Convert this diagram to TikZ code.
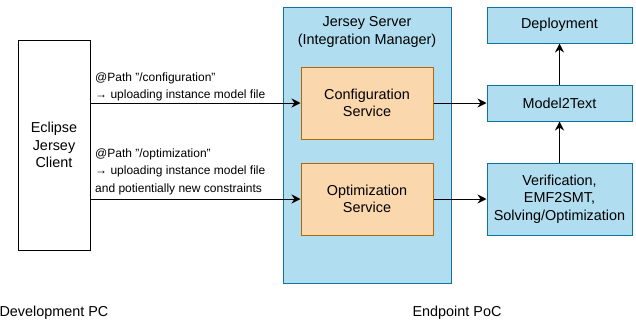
\documentclass[tikz,border=0pt]{standalone}
\usepackage{fontspec}
\setmainfont{Liberation Sans}
\usetikzlibrary{arrows.meta,positioning}
\definecolor{srvfill}{HTML}{B1DDF0}
\definecolor{srvline}{HTML}{10739E}
\definecolor{svcfill}{HTML}{FAD7AC}
\definecolor{svcline}{HTML}{B46504}
\newcommand{\boxtxt}{\fontsize{14.4}{17.4}\selectfont}
\newcommand{\edgetxt}{\fontsize{12}{17.6}\selectfont}

\begin{document}
\begin{tikzpicture}[x=1pt,y=-1pt,
  blk/.style={draw,line width=1pt,align=center,inner sep=0pt,font=\boxtxt},
  srvbox/.style={blk,draw=srvline,fill=srvfill},
  svcbox/.style={blk,draw=svcline,fill=svcfill},
  edgelbl/.style={anchor=south west,align=left,inner sep=0pt,font=\edgetxt},
  flow/.style={line width=1pt,-{Stealth[length=9pt,width=9pt,inset=3pt]}}]
\useasboundingbox (0,0) rectangle (636,325);

% hosts
\node[blk,fill=white,minimum width=72pt,minimum height=210pt] (client) at (54,145) {Eclipse\\Jersey\\Client};
\node[srvbox,minimum width=168pt,minimum height=276pt] (server) at (367,145) {};
\node[align=center,font=\boxtxt] (servertitle) at (367,32) {Jersey Server\\(Integration Manager)};

% services and back end
\node[svcbox,minimum width=132pt,minimum height=72pt] (config) at (367,103) {Configuration\\Service};
\node[svcbox,minimum width=132pt,minimum height=72pt] (optim) at (367,199) {Optimization\\Service};
\node[srvbox,minimum width=145pt,minimum height=36pt] (deploy) at (559.5,25) {Deployment};
\node[srvbox,minimum width=145pt,minimum height=36pt] (m2t) at (559.5,103) {Model2Text};
\node[srvbox,minimum width=145pt,minimum height=72pt] (verif) at (559.5,199) {Verification,\\EMF2SMT,\\Solving/Optimization};

% requests
\draw[flow] (client.east |- config) -- (config);
\draw[flow] (client.east |- optim) -- (optim);
\node[edgelbl] (cfglbl) at (95,101.5) {@Path "/configuration"\\→ uploading instance model file};
\node[edgelbl] (optlbl) at (95,195) {@Path "/optimization"\\→ uploading instance model file\\and potientially new constraints};

% pipeline
\draw[flow] (config) -- (m2t);
\draw[flow] (optim) -- (verif);
\draw[flow] (verif) -- (m2t);
\draw[flow] (m2t) -- (deploy);

\node[font=\boxtxt] (devpc) at (54,313) {Development PC};
\node[font=\boxtxt] (endpoint) at (457,313) {Endpoint PoC};
\end{tikzpicture}
\end{document}
